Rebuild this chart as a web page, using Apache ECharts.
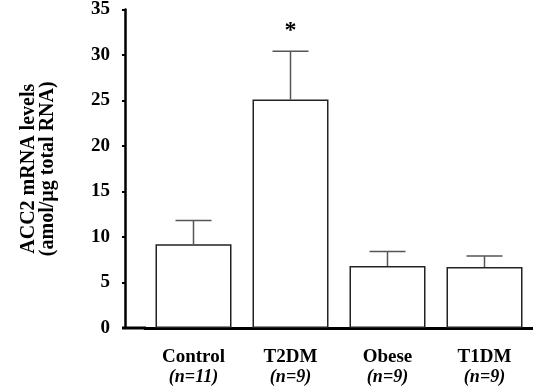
<!DOCTYPE html>
<html>
<head>
<meta charset="utf-8">
<script src="https://cdn.jsdelivr.net/npm/echarts@6/dist/echarts.min.js"></script>
<style>
html, body { margin: 0; padding: 0; background: #fff; }
#main { width: 533px; height: 386px; }
</style>
</head>
<body>
<div id="main"></div>
<script>
// groups and their sample sizes
var categories = ['Control', 'T2DM', 'Obese', 'T1DM'];
var groupN = ['(n=11)', '(n=9)', '(n=9)', '(n=9)'];
// mean ACC2 mRNA (amol/µg total RNA)
var means = [9.2, 25.1, 6.8, 6.7];
// top of error bar (mean + SEM)
var errTops = [11.8, 30.4, 8.4, 7.9];
// significance marks above error bars
var marks = ['', '*', '', ''];

var serif = '"Liberation Serif", "Times New Roman", serif';

var myChart = echarts.init(document.getElementById('main'));
var option = {
	animation: false,
	grid: {
		left: 145,
		right: 0,
		top: 6,
		bottom: 58
	},
	xAxis: {
		type: 'category',
		data: categories,
		axisLine: {
			lineStyle: { color: '#000', width: 3 }
		},
		axisTick: { show: false },
		axisLabel: {
			margin: 19,
			formatter: function (v, i) {
				return '{a|' + v + '}\n{b|' + groupN[i] + '}';
			},
			rich: {
				a: { fontFamily: serif, fontWeight: 'bold', fontSize: 19, color: '#000', lineHeight: 20 },
				b: { fontFamily: serif, fontWeight: 'bold', fontStyle: 'italic', fontSize: 18, color: '#000', lineHeight: 20 }
			}
		}
	},
	yAxis: {
		type: 'value',
		min: 0,
		max: 35,
		interval: 5,
		offset: 20,
		name: 'ACC2 mRNA levels\n(amol/µg total RNA)',
		nameLocation: 'middle',
		nameRotate: 90,
		nameGap: 68,
		nameTextStyle: {
			fontFamily: serif,
			fontWeight: 'bold',
			fontSize: 20,
			color: '#000',
			lineHeight: 19
		},
		splitLine: { show: false },
		axisLine: {
			show: true,
			lineStyle: { color: '#000', width: 2.5 }
		},
		axisTick: {
			show: true,
			length: 3,
			lineStyle: { color: '#000', width: 2 }
		},
		axisLabel: {
			margin: 15,
			fontFamily: serif,
			fontWeight: 'bold',
			fontSize: 19,
			color: '#000'
		}
	},
	graphic: [{
		type: 'line',
		shape: { x1: 122, y1: 328, x2: 146, y2: 328 },
		style: { stroke: '#000', lineWidth: 3 }
	}],
	series: [{
		type: 'bar',
		data: means,
		barWidth: 76,
		z: 2,
		itemStyle: {
			color: '#fff',
			borderColor: '#222',
			borderWidth: 1.5
		}
	}, {
		type: 'custom',
		z: 3,
		data: categories.map(function (c, i) { return [i, means[i], errTops[i]]; }),
		renderItem: function (params, api) {
			var i = api.value(0);
			var base = api.coord([i, api.value(1)]);
			var top = api.coord([i, api.value(2)]);
			var half = 18;
			var children = [{
				type: 'line',
				shape: { x1: base[0], y1: base[1], x2: top[0], y2: top[1] },
				style: { stroke: '#555', lineWidth: 1.5 }
			}, {
				type: 'line',
				shape: { x1: top[0] - half, y1: top[1], x2: top[0] + half, y2: top[1] },
				style: { stroke: '#555', lineWidth: 1.5 }
			}];
			if (marks[params.dataIndex]) {
				children.push({
					type: 'text',
					style: {
						text: marks[params.dataIndex],
						x: top[0],
						y: top[1] - 21,
						align: 'center',
						verticalAlign: 'middle',
						fontFamily: serif,
						fontWeight: 'bold',
						fontSize: 24,
						fill: '#000'
					}
				});
			}
			return { type: 'group', children: children };
		}
	}]
};
myChart.setOption(option);
</script>
</body>
</html>
